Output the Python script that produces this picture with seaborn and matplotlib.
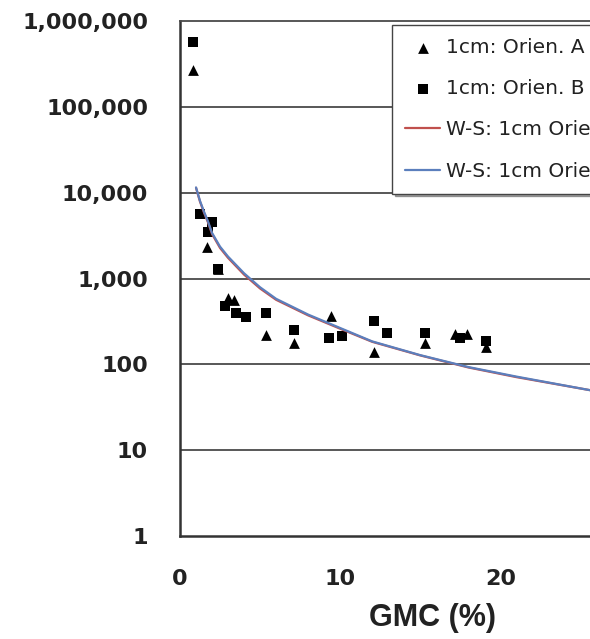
import matplotlib
matplotlib.use("Agg")
import matplotlib.pyplot as plt
from matplotlib.ticker import FuncFormatter, FixedLocator, NullLocator
import seaborn as sns

# Measured samples (GMC in %, response on a log scale)
gmc_a = [0.8, 1.67, 2.4, 3.0, 3.4, 5.4, 7.1, 9.4, 12.1, 15.3, 17.2, 17.9, 19.1]
val_a = [270000, 2320, 1290, 600, 560, 221, 177, 363, 141, 177, 227, 227, 161]

gmc_b = [0.8, 1.25, 1.98, 1.77, 2.4, 2.8, 3.5, 4.1, 5.4, 7.1, 9.3, 10.1, 12.1, 12.9, 15.3, 17.5, 19.1]
val_b = [570000, 5700, 4570, 3470, 1300, 480, 400, 360, 400, 253, 202, 211, 316, 232, 232, 202, 185]

# W-S model curves
gmc_ws = [1.0, 1.25, 1.5, 1.75, 2.0, 2.5, 3.0, 4.0, 5.0, 6.0, 8.0, 10.0, 12.0, 15.0, 18.0, 21.0, 25.6]
ws_a = [11400, 7850, 5850, 4500, 3300, 2270, 1740, 1110, 765, 565, 372, 260, 183, 127, 92, 71, 50]
ws_b = [11500, 8000, 6000, 4610, 3400, 2350, 1800, 1150, 790, 580, 380, 265, 185, 128, 93, 72, 50]

labels = ["1cm: Orien. A", "1cm: Orien. B", "W-S: 1cm Orien. A", "W-S: 1cm Orien. B"]
y_ticks = [1, 10, 100, 1000, 10000, 100000, 1000000]
x_ticks = [0, 10, 20]

sns.set_style("white")
plt.rcParams["font.family"] = ["DejaVu Sans"]

W, H = 590, 639
fig = plt.figure(figsize=(W / 100, H / 100), dpi=100)
ax = fig.add_axes([180 / W, 1 - 536 / H, 410 / W, 515 / H])

sns.scatterplot(x=gmc_a, y=val_a, marker="^", color="black", s=60,
                linewidth=0, label=labels[0], ax=ax, zorder=3)
sns.scatterplot(x=gmc_b, y=val_b, marker="s", color="black", s=42,
                linewidth=0, label=labels[1], ax=ax, zorder=3)
sns.lineplot(x=gmc_ws, y=ws_a, color="#c0504d", linewidth=1.6,
             label=labels[2], ax=ax, zorder=4, sort=True)
sns.lineplot(x=gmc_ws, y=ws_b, color="#5b7fbd", linewidth=1.6,
             label=labels[3], ax=ax, zorder=5, sort=True)

ax.set_yscale("log")
ax.set_ylim(1, 1e6)
ax.set_xlim(0, 25.6)
ax.yaxis.set_major_locator(FixedLocator(y_ticks))
ax.yaxis.set_minor_locator(NullLocator())
ax.yaxis.set_major_formatter(FuncFormatter(lambda v, p: f"{v:,.0f}"))
ax.xaxis.set_major_locator(FixedLocator(x_ticks))

for v in y_ticks[1:-1]:
    ax.axhline(v, color="#4a4a4a", linewidth=1.3, zorder=1)

ax.spines["right"].set_visible(False)
ax.spines["top"].set_color("#4a4a4a")
ax.spines["top"].set_linewidth(1.3)
for side in ("left", "bottom"):
    ax.spines[side].set_color("#333333")
    ax.spines[side].set_linewidth(1.8)

ax.tick_params(axis="both", which="major", direction="out", length=9,
               width=1.5, color="#333333", labelsize=16, labelcolor="#222222")
ax.tick_params(axis="y", pad=14)
ax.tick_params(axis="x", pad=15)
for t in ax.get_xticklabels() + ax.get_yticklabels():
    t.set_fontweight("bold")

ax.set_xlabel("GMC (%)", fontsize=22, fontweight="bold", color="#222222",
              family=["Liberation Sans", "DejaVu Sans"])
ax.xaxis.set_label_coords(0.617, -0.13)
ax.set_ylabel("")

handles, labs = ax.get_legend_handles_labels()
leg = ax.legend(handles, labs, loc="upper left",
                bbox_to_anchor=(392 / W, 1 - 25 / H), bbox_transform=fig.transFigure,
                borderaxespad=0, frameon=True, fancybox=False, shadow=True,
                fontsize=14.5, labelspacing=1.1, borderpad=0.65,
                handlelength=1.75, handletextpad=0.3, labelcolor="#222222")
leg.get_frame().set_edgecolor("#444444")
leg.get_frame().set_linewidth(1.0)
leg.set_zorder(10)

fig.savefig("out.png", dpi=100)
